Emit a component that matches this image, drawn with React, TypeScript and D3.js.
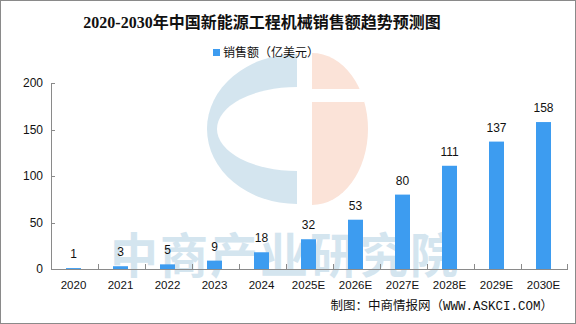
import React from "react";
import * as d3 from "d3";

const categories = ["2020", "2021", "2022", "2023", "2024", "2025E", "2026E", "2027E", "2028E", "2029E", "2030E"];
const sales = [1, 3, 5, 9, 18, 32, 53, 80, 111, 137, 158];
const yTicks = [0, 50, 100, 150, 200];

const W = 576;
const H = 324;
const left = 51;
const right = 568;
const top = 83;
const bottom = 269;

export default function App() {
  const x = d3.scaleBand<string>().domain(categories).range([left, right]);
  const y = d3.scaleLinear().domain([0, 200]).range([bottom, top]);
  const bw = 15;
  const axisColor = "#8a8a8a";
  const wmBlue = "#d4e5ef";
  const wmPink = "#fbe3d8";

  // logo geometry
  const cxB = 297, cy = 129;
  const blueOuter = `M ${cxB} ${cy - 75} A 90 75 0 0 0 ${cxB} ${cy + 75} Z`;
  const blueInner = `M ${cxB} ${cy - 42} A 80 42 0 0 0 ${cxB} ${cy + 42} Z`;
  const cxP = 312;
  const pink = `M ${cxP} ${cy - 76} A 56 76 0 0 1 ${cxP} ${cy + 76} Z`;

  return (
    <svg width={W} height={H} style={{ position: "absolute", left: 0, top: 0, display: "block" }}>
      <rect x={0} y={0} width={W} height={H} fill="#fff" />
      <rect x={0.5} y={0.5} width={W - 1} height={H - 1} fill="none" stroke="#8a8a8a" />

      {/* watermark */}
      <g>
        <defs>
          <mask id="bm">
            <rect x={0} y={0} width={W} height={H} fill="#fff" />
            <path d={blueInner} fill="#000" />
          </mask>
          <mask id="pm">
            <rect x={0} y={0} width={W} height={H} fill="#fff" />
            <rect x={cxP - 2} y={89} width={54} height={13} fill="#000" />
          </mask>
        </defs>
        <path d={blueOuter} fill={wmBlue} mask="url(#bm)" />
        <path d={pink} fill={wmPink} mask="url(#pm)" />
        <text
          x={285}
          y={273}
          textAnchor="middle"
          fontFamily="'Noto Sans CJK SC', sans-serif"
          fontWeight={700}
          fontSize={48}
          fill={wmBlue}
          letterSpacing={2}
        >
          中商产业研究院
        </text>
      </g>

      <text
        x={262}
        y={28}
        textAnchor="middle"
        fontFamily="'Liberation Serif', 'Noto Sans CJK SC', serif"
        fontWeight={700}
        fontSize={16}
        fill="#111"
      >
        2020-2030年中国新能源工程机械销售额趋势预测图
      </text>

      {/* legend */}
      <rect x={213} y={49} width={7} height={7} fill="#3d9cf0" />
      <text x={223} y={57} fontFamily="'Noto Sans CJK SC', sans-serif" fontSize={12} fill="#111">
        销售额（亿美元）
      </text>

      {/* bars */}
      {categories.map((c, i) => {
        const cx = (x(c) as number) + x.bandwidth() / 2 - 1;
        return (
          <g key={c}>
            <rect x={cx - bw / 2} y={y(sales[i])} width={bw} height={bottom - y(sales[i])} fill="#3d9cf0" />
            <text
              x={cx}
              y={y(sales[i]) - 10}
              textAnchor="middle"
              fontFamily="'Liberation Sans', Arial, sans-serif"
              fontSize={12}
              fill="#111"
            >
              {sales[i]}
            </text>
            <text
              x={cx}
              y={289}
              textAnchor="middle"
              fontFamily="'Liberation Sans', Arial, sans-serif"
              fontSize={11.5}
              fill="#111"
            >
              {c}
            </text>
          </g>
        );
      })}

      {/* axes */}
      <line x1={left + 0.5} x2={left + 0.5} y1={top} y2={bottom} stroke={axisColor} />
      {yTicks.map((t) => (
        <g key={t}>
          <line x1={left} x2={left + 4} y1={Math.round(y(t)) + 0.5} y2={Math.round(y(t)) + 0.5} stroke={axisColor} />
          <text
            x={43}
            y={y(t) + 4}
            textAnchor="end"
            fontFamily="'Liberation Sans', Arial, sans-serif"
            fontSize={12}
            fill="#111"
          >
            {t}
          </text>
        </g>
      ))}
      <line x1={left} x2={right} y1={bottom + 0.5} y2={bottom + 0.5} stroke={axisColor} />
      {categories.slice(1).map((c) => (
        <line
          key={c}
          x1={Math.round(x(c) as number) + 0.5}
          x2={Math.round(x(c) as number) + 0.5}
          y1={bottom - 5}
          y2={bottom}
          stroke={axisColor}
        />
      ))}
      <line x1={right - 0.5} x2={right - 0.5} y1={bottom - 5} y2={bottom} stroke={axisColor} />

      <text
        x={553}
        y={310}
        textAnchor="end"
        fontFamily="'Liberation Mono', 'Noto Sans CJK SC', monospace"
        fontSize={12.5}
        fill="#111"
      >
        制图：中商情报网（WWW.ASKCI.COM）
      </text>
    </svg>
  );
}
